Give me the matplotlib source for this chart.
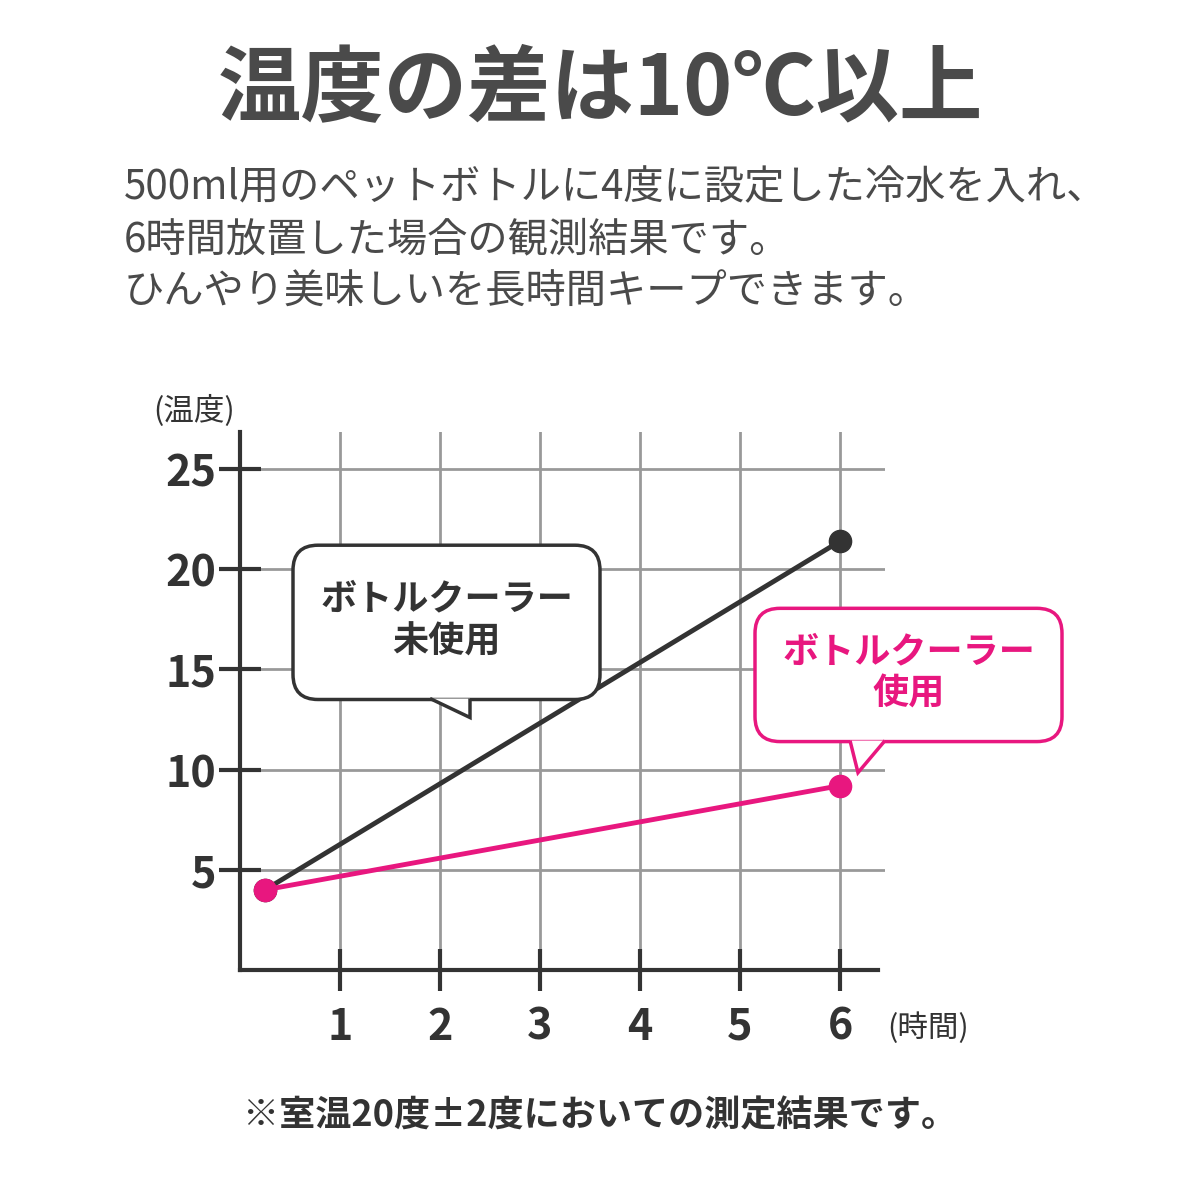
import matplotlib
matplotlib.use("Agg")
import matplotlib.pyplot as plt
from matplotlib.patches import FancyBboxPatch, Polygon

plt.rcParams['font.family'] = ['Noto Sans CJK JP', 'DejaVu Sans']

hours = [0.25, 6]
without_cooler = [4.0, 21.4]
with_cooler = [4.0, 9.2]
x_ticks = [1, 2, 3, 4, 5, 6]
y_ticks = [5, 10, 15, 20, 25]

gray = '#4a4a4a'
dark = '#333333'
pink = '#e8177f'

fig = plt.figure(figsize=(12, 12), dpi=100)
fig.text(0.5, 0.925, '温度の差は10℃以上', ha='center', va='center',
         fontsize=60, fontweight='bold', color=gray)
fig.text(0.103, 0.80, '500ml用のペットボトルに4度に設定した冷水を入れ、\n6時間放置した場合の観測結果です。\nひんやり美味しいを長時間キープできます。',
         ha='left', va='center', fontsize=29, color=gray, linespacing=1.35)
fig.text(0.5, 0.07, '※室温20度±2度においての測定結果です。', ha='center', va='center',
         fontsize=26, fontweight='bold', color=dark)

ax = fig.add_axes([240/1200, 230/1200, 645/1200, 538/1200])
ax.set_xlim(0, 6.45)
ax.set_ylim(0, 26.85)
for s in ['top', 'right']:
    ax.spines[s].set_visible(False)
ax.spines['left'].set_linewidth(3)
ax.spines['bottom'].set_linewidth(3)
ax.spines['left'].set_color(dark)
ax.spines['bottom'].set_color(dark)
ax.spines['bottom'].set_bounds(0, 6.38)
ax.set_xticks(x_ticks)
ax.set_yticks(y_ticks)
ax.tick_params(axis='both', direction='inout', length=30, width=3, color=dark,
               labelsize=31, labelcolor=dark)
ax.tick_params(axis='x', pad=10)
ax.tick_params(axis='y', pad=2)
for lab in ax.get_xticklabels() + ax.get_yticklabels():
    lab.set_fontweight('bold')
ax.grid(True, color='#999999', linewidth=2)
ax.set_axisbelow(True)

ax.plot(hours, without_cooler, color=dark, linewidth=3.5, marker='o', markersize=16, zorder=4)
ax.plot(hours, with_cooler, color=pink, linewidth=3.5, marker='o', markersize=16, zorder=5)

ax.text(-0.05, 27.9, '(温度)', ha='right', va='center', fontsize=22, color=dark)
ax.text(6.47, -2.9, '(時間)', ha='left', va='center', fontsize=22, color=dark)

# callout bubbles
def bubble(x0, y0, x1, y1, tail, ec, txt, tc):
    box = FancyBboxPatch((x0, y1), x1 - x0, y0 - y1, boxstyle='round,pad=0,rounding_size=0.25',
                         mutation_aspect=100/20.05, fc='white', ec=ec, lw=2.5,
                         clip_on=False, zorder=6)
    ax.add_patch(box)
    ax.add_patch(Polygon(tail, closed=False, fc='white', ec=ec, lw=2.5, clip_on=False, zorder=7))
    ax.text((x0 + x1) / 2, (y0 + y1) / 2 + 0.1, txt, ha='center', va='center', fontsize=26,
            fontweight='bold', color=tc, linespacing=1.2, zorder=8)

bubble(0.53, 21.2, 3.6, 13.5, [[1.9, 13.55], [2.3, 12.6], [2.3, 13.55]], dark,
       'ボトルクーラー\n未使用', dark)
bubble(5.15, 18.05, 8.22, 11.4, [[6.1, 11.45], [6.18, 9.85], [6.45, 11.45]], pink,
       'ボトルクーラー\n使用', pink)

fig.savefig('out.png', dpi=100, facecolor='white')
